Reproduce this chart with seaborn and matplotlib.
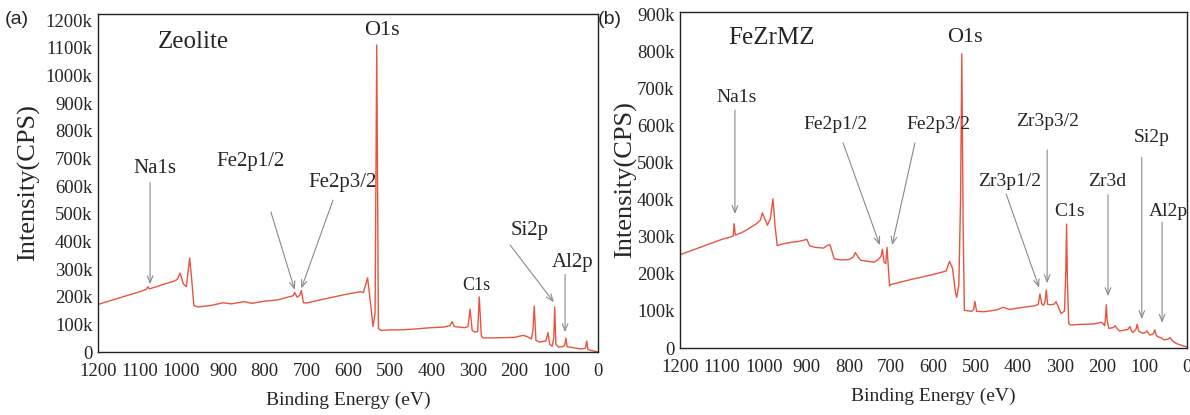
import matplotlib
matplotlib.use("Agg")
import matplotlib.pyplot as plt
import seaborn as sns
import pandas as pd

# ---------------- data (binding energy eV, intensity kCPS) ----------------
energy_a = [1200, 1150, 1100, 1085, 1080, 1077, 1060, 1040, 1020, 1010, 1003, 995, 988, 980, 975, 970,
            960, 930, 900, 880, 850, 830, 800, 770, 740, 732, 728, 722, 716, 712, 707, 700, 650, 600,
            570, 563, 553, 545, 540, 535, 531, 527, 520, 500, 470, 440, 400, 370, 355, 350, 345, 320,
            312, 307, 302, 295, 289, 285, 280, 276, 250, 200, 180, 170, 160, 156, 153, 149, 140, 125,
            120, 116, 110, 106, 104, 101, 95, 85, 80, 77, 74, 65, 50, 40, 30, 27, 24, 15, 5, 0]
intensity_a = [172, 195, 218, 226, 236, 228, 236, 246, 255, 262, 285, 246, 236, 340, 260, 168,
               163, 168, 178, 174, 182, 176, 184, 188, 200, 203, 215, 198, 205, 222, 178, 177, 194, 210,
               218, 215, 268, 165, 92, 140, 1110, 84, 78, 80, 80, 83, 88, 90, 96, 110, 92, 88,
               92, 155, 78, 72, 74, 199, 58, 51, 51, 53, 60, 56, 47, 80, 166, 42, 36, 40,
               70, 28, 21, 52, 163, 28, 18, 19, 24, 50, 19, 17, 13, 11, 14, 40, 9, 5, 2, 0]

energy_b = [1200, 1150, 1100, 1080, 1074, 1072, 1069, 1050, 1020, 1010, 1005, 998, 993, 986, 980, 975,
            970, 950, 940, 920, 905, 900, 893, 880, 860, 850, 845, 835, 820, 800, 790, 785, 778, 772,
            760, 740, 730, 724, 721, 717, 713, 710, 707, 704, 700, 650, 600, 570, 562, 555, 548, 545,
            540, 536, 533, 530, 527, 510, 505, 502, 498, 480, 450, 435, 430, 420, 400, 380, 360, 352,
            348, 344, 340, 336, 333, 330, 325, 315, 310, 306, 298, 290, 287, 285, 283, 280, 275, 250,
            220, 205, 200, 195, 193, 191, 189, 185, 175, 170, 165, 160, 140, 135, 131, 128, 121, 118,
            114, 105, 98, 95, 91, 88, 80, 76, 73, 70, 60, 55, 45, 40, 35, 25, 10, 0]
intensity_b = [252, 273, 294, 300, 303, 336, 305, 314, 335, 345, 365, 345, 332, 350, 403, 330,
               277, 283, 285, 288, 292, 294, 276, 272, 270, 278, 279, 241, 238, 239, 246, 258, 245, 237,
               235, 232, 240, 248, 267, 232, 228, 272, 220, 168, 172, 186, 199, 208, 234, 215, 150, 137,
               170, 400, 795, 350, 102, 99, 104, 126, 99, 98, 103, 110, 108, 104, 108, 111, 114, 118,
               146, 120, 115, 125, 157, 118, 117, 118, 125, 115, 93, 100, 200, 335, 180, 66, 62, 64,
               65, 69, 68, 60, 80, 117, 75, 53, 55, 60, 52, 46, 50, 58, 45, 42, 50, 64,
               45, 40, 42, 46, 40, 35, 38, 49, 35, 31, 27, 22, 24, 28, 20, 12, 6, 3]

x_ticks = [1200, 1100, 1000, 900, 800, 700, 600, 500, 400, 300, 200, 100, 0]
y_ticks_a = [0, 100, 200, 300, 400, 500, 600, 700, 800, 900, 1000, 1100, 1200]
y_ticks_b = [0, 100, 200, 300, 400, 500, 600, 700, 800, 900]

# annotations: (label, text x, text y, arrow start x, arrow start y, tip x, tip y)
notes_a = [("Na1s", 1063, 665, 1075, 612, 1075, 245),
           ("Fe2p1/2", 835, 687, 785, 506, 728, 225),
           ("Fe2p3/2", 612, 614, 636, 549, 712, 230),
           ("Si2p", 163, 441, 211, 387, 106, 180),
           ("Al2p", 62, 325, 79, 280, 79, 72)]
notes_b = [("Na1s", 1065, 676, 1070, 643, 1070, 362),
           ("Fe2p1/2", 833, 605, 814, 554, 727, 278),
           ("Fe2p3/2", 589, 605, 644, 554, 698, 278),
           ("Zr3p3/2", 329, 611, 331, 535, 331, 175),
           ("Si2p", 83, 568, 107, 515, 107, 78),
           ("Zr3p1/2", 419, 449, 428, 416, 350, 163),
           ("Zr3d", 189, 449, 187, 414, 187, 140),
           ("Al2p", 45, 368, 59, 340, 59, 68)]

# ---------------- style ----------------
sns.set_style("white")
plt.rcParams["font.family"] = ["Liberation Serif", "DejaVu Serif"]
plt.rcParams["xtick.direction"] = "in"
plt.rcParams["ytick.direction"] = "in"

LINE = "#e8553f"
ARROW = "#8a8a8a"

fig = plt.figure(figsize=(11.9, 4.15), dpi=100)
ax_a = fig.add_axes([98 / 1190, 1 - 352 / 415, 500 / 1190, 338 / 415])
ax_b = fig.add_axes([680 / 1190, 1 - 348 / 415, 507 / 1190, 336 / 415])

df_a = pd.DataFrame({"E": energy_a, "I": [v * 1000 for v in intensity_a]})
df_b = pd.DataFrame({"E": energy_b, "I": [v * 1000 for v in intensity_b]})

for ax, df, yt, ytop in [(ax_a, df_a, y_ticks_a, 1222000), (ax_b, df_b, y_ticks_b, 908000)]:
    sns.lineplot(data=df, x="E", y="I", ax=ax, color=LINE, lw=1.0, sort=False, estimator=None)
    ax.set_xlim(1200, 0)
    ax.set_ylim(0, ytop)
    ax.set_xticks(x_ticks)
    ax.set_xticklabels([str(t) for t in x_ticks], fontsize=13.5)
    ax.set_yticks([t * 1000 for t in yt])
    ax.set_yticklabels(["0" if t == 0 else f"{t}k" for t in yt], fontsize=13.5)
    ax.tick_params(axis="both", length=5, width=1, color="black", pad=4)
    ax.tick_params(axis="x", pad=8)
    for s in ax.spines.values():
        s.set_color("#222222")
        s.set_linewidth(1.0)
    ax.set_xlabel("Binding Energy (eV)", fontsize=14, labelpad=8)

ax_a.set_ylabel("Intensity(CPS)", fontsize=19, labelpad=4)
ax_b.set_ylabel("Intensity(CPS)", fontsize=19, labelpad=0)


def annotate(ax, notes, fs=15):
    for lab, tx, ty, sx, sy, ex, ey in notes:
        ax.text(tx, ty * 1000, lab, ha="center", va="center", fontsize=fs)
        ax.annotate("", xy=(ex, ey * 1000), xytext=(sx, sy * 1000),
                    arrowprops=dict(arrowstyle="->,head_length=0.5,head_width=0.2",
                                    color=ARROW, lw=0.8, shrinkA=0, shrinkB=0))


annotate(ax_a, notes_a)
annotate(ax_b, notes_b, fs=14)

ax_a.text(1056, 1120000, "Zeolite", ha="left", va="center", fontsize=18)
ax_a.text(518, 1164000, "O1s", ha="center", va="center", fontsize=16)
ax_a.text(293, 240000, "C1s", ha="center", va="center", fontsize=13)

ax_b.text(1086, 838000, "FeZrMZ", ha="left", va="center", fontsize=18)
ax_b.text(525, 838000, "O1s", ha="center", va="center", fontsize=16)
ax_b.text(277, 368000, "C1s", ha="center", va="center", fontsize=14)

fig.text(5 / 1190, 1 - 20 / 415, "(a)", family=["Liberation Sans"], fontsize=14, va="center")
fig.text(598 / 1190, 1 - 20 / 415, "(b)", family=["Liberation Sans"], fontsize=14, va="center")

fig.savefig("out.png", dpi=100)
